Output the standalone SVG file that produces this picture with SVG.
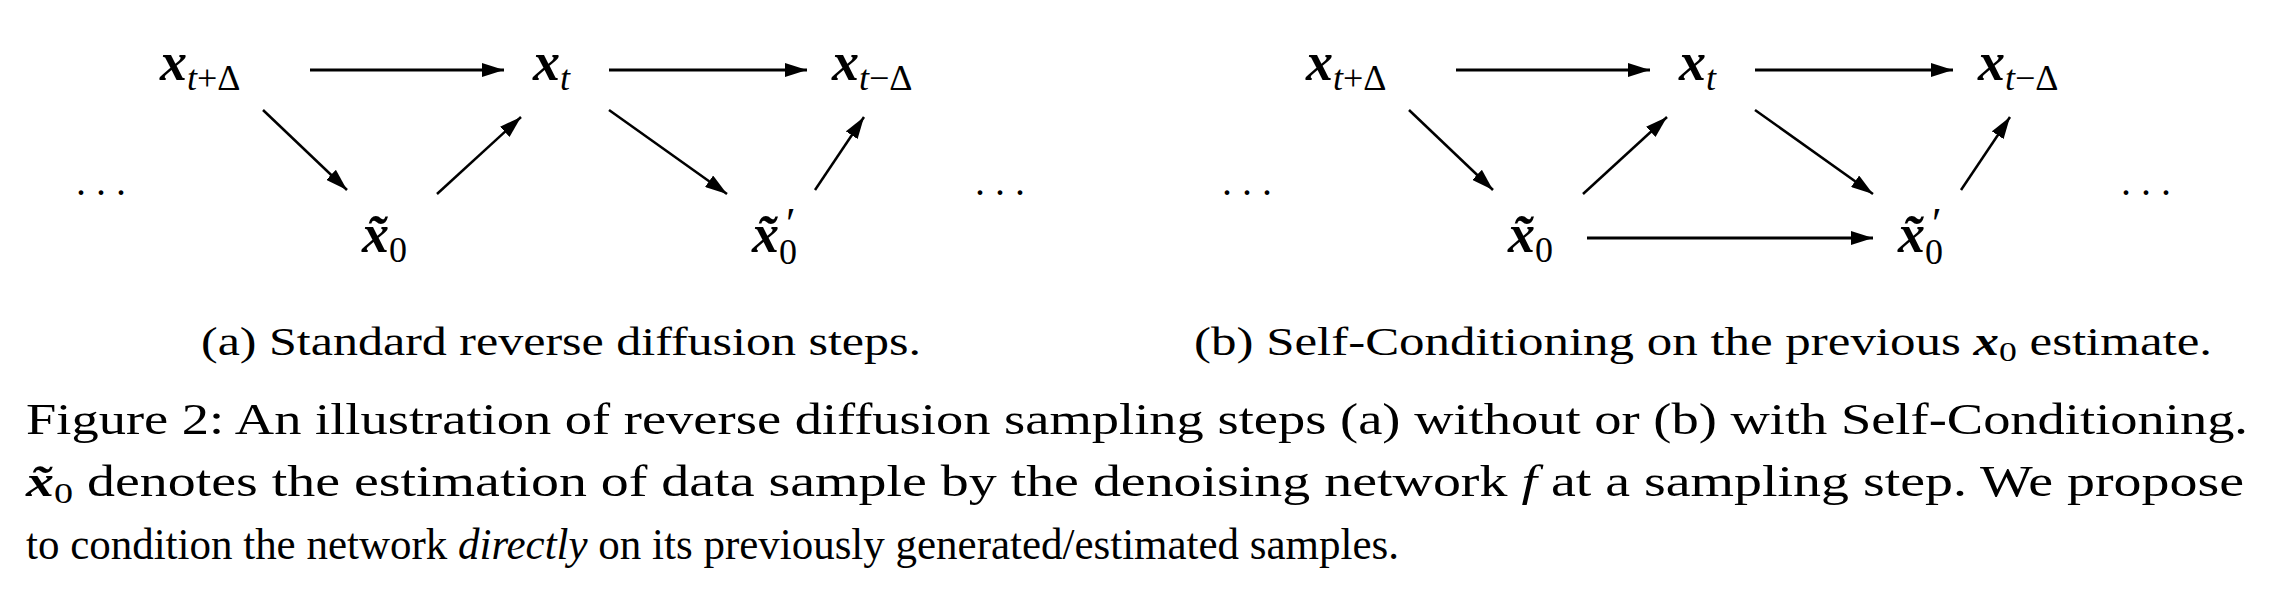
<svg xmlns="http://www.w3.org/2000/svg" width="2277" height="598" viewBox="0 0 2277 598">
<style>
text{font-family:"Liberation Serif","Times New Roman",serif;fill:#000}
.m{font-size:54px;font-weight:bold;font-style:italic}
.s{font-size:36px;font-style:italic;font-weight:normal}
.n{font-size:36px;font-style:normal;font-weight:normal}
.p{font-size:44px;font-style:normal;font-weight:normal}
.d{font-size:40px}
.cap{font-size:40px}
.fig{font-size:44px}
line{stroke:#000;stroke-width:2.5}
</style>
<defs>
<marker id="ah" viewBox="0 0 10 10" refX="10" refY="5" markerWidth="22" markerHeight="14" orient="auto" markerUnits="userSpaceOnUse" preserveAspectRatio="none">
<path d="M0,0 L10,5 L0,10 z" fill="#000"/>
</marker>
</defs>
<g id="panelA">
<g id="a_xtpd"><text x="160" y="80" class="m">x<tspan class="s" dy="10">t</tspan><tspan class="n">+Δ</tspan></text></g>
<g id="a_xt"><text x="533" y="80" class="m">x<tspan class="s" dy="10">t</tspan></text></g>
<g id="a_xtmd"><text x="832" y="80" class="m">x<tspan class="s" dy="10">t</tspan><tspan class="n">−Δ</tspan></text></g>
<g id="a_x0"><text x="362" y="252" class="m">x̃<tspan class="n" dy="10">0</tspan></text></g>
<g id="a_x0p"><text x="752" y="252" class="m">x̃<tspan class="n" dy="12">0</tspan></text><text x="786" y="238" class="p">′</text></g>
<g id="a_dl"><text x="76" y="195" class="d">. . .</text></g>
<g id="a_dr"><text x="975" y="195" class="d">. . .</text></g>
<g id="a_conn">
<line x1="310" y1="70" x2="504" y2="70" marker-end="url(#ah)" style="stroke-width:3"/>
<line x1="609" y1="70" x2="807" y2="70" marker-end="url(#ah)" style="stroke-width:3"/>
<line x1="263" y1="110" x2="347" y2="190" marker-end="url(#ah)"/>
<line x1="437" y1="194" x2="521" y2="117" marker-end="url(#ah)"/>
<line x1="609" y1="110" x2="727" y2="194" marker-end="url(#ah)"/>
<line x1="815" y1="190" x2="864" y2="117" marker-end="url(#ah)"/>
</g>
<text x="561" y="355" class="cap" text-anchor="middle" textLength="720" lengthAdjust="spacingAndGlyphs">(a) Standard reverse diffusion steps.</text>
</g>
<g id="panelB" transform="translate(1146,0)">
<g id="b_xtpd"><text x="160" y="80" class="m">x<tspan class="s" dy="10">t</tspan><tspan class="n">+Δ</tspan></text></g>
<g id="b_xt"><text x="533" y="80" class="m">x<tspan class="s" dy="10">t</tspan></text></g>
<g id="b_xtmd"><text x="832" y="80" class="m">x<tspan class="s" dy="10">t</tspan><tspan class="n">−Δ</tspan></text></g>
<g id="b_x0"><text x="362" y="252" class="m">x̃<tspan class="n" dy="10">0</tspan></text></g>
<g id="b_x0p"><text x="752" y="252" class="m">x̃<tspan class="n" dy="12">0</tspan></text><text x="786" y="238" class="p">′</text></g>
<g id="b_dl"><text x="76" y="195" class="d">. . .</text></g>
<g id="b_dr"><text x="975" y="195" class="d">. . .</text></g>
<g id="b_conn">
<line x1="310" y1="70" x2="504" y2="70" marker-end="url(#ah)" style="stroke-width:3"/>
<line x1="609" y1="70" x2="807" y2="70" marker-end="url(#ah)" style="stroke-width:3"/>
<line x1="263" y1="110" x2="347" y2="190" marker-end="url(#ah)"/>
<line x1="437" y1="194" x2="521" y2="117" marker-end="url(#ah)"/>
<line x1="609" y1="110" x2="727" y2="194" marker-end="url(#ah)"/>
<line x1="815" y1="190" x2="864" y2="117" marker-end="url(#ah)"/>
<line x1="441" y1="238" x2="727" y2="238" marker-end="url(#ah)" style="stroke-width:3"/>
</g>
</g>
<text x="1194" y="355" class="cap" textLength="1018" lengthAdjust="spacingAndGlyphs">(b) Self-Conditioning on the previous <tspan font-weight="bold" font-style="italic">x</tspan><tspan font-size="28" dy="6">0</tspan><tspan dy="-6"> estimate.</tspan></text>
<text x="26" y="434" class="fig" textLength="2222" lengthAdjust="spacingAndGlyphs">Figure 2: An illustration of reverse diffusion sampling steps (a) without or (b) with Self-Conditioning.</text>
<text x="26" y="496" class="fig" textLength="2218" lengthAdjust="spacingAndGlyphs"><tspan font-weight="bold" font-style="italic">x̃</tspan><tspan font-size="30" dy="7">0</tspan><tspan dy="-7"> denotes the estimation of data sample by the denoising network </tspan><tspan font-style="italic">f</tspan> at a sampling step. We propose</text>
<text x="26" y="559" class="fig" textLength="1373" lengthAdjust="spacingAndGlyphs">to condition the network <tspan font-style="italic">directly</tspan> on its previously generated/estimated samples.</text>
</svg>
